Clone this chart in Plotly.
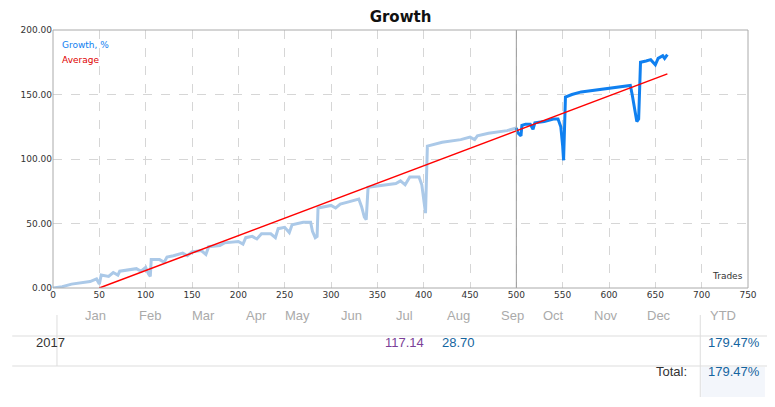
import plotly.graph_objects as go

# Growth curve, history part (light) and recent part (dark)
hist_x = [0, 10, 20, 30, 40, 47, 50, 52, 60, 65, 70, 72, 80, 90, 95, 100, 103, 105, 106, 115, 120, 123, 130,
          140, 145, 150, 160, 165, 168, 180, 185, 200, 205, 208, 215, 220, 225, 235, 240, 243, 250, 255, 258,
          270, 278, 280, 283, 285, 286, 300, 305, 310, 320, 325, 330, 333, 336, 338, 340, 350, 360, 370, 375,
          380, 385, 395, 398, 400, 402, 404, 420, 440, 450, 455, 458, 470, 480, 490, 500]
hist_y = [0, 1, 3, 4, 5, 7, 3, 10, 9, 12, 10, 13, 14, 15, 13, 16, 11, 9, 22, 22, 20, 24, 25,
          27, 25, 28, 29, 26, 32, 33, 35, 36, 34, 39, 40, 38, 42, 42, 39, 46, 47, 43, 49,
          51, 51, 44, 39, 40, 62, 64, 62, 65, 67, 68, 69, 63, 55, 53, 78, 79, 80, 81, 83,
          80, 86, 86, 80, 70, 58, 110, 113, 115, 117, 115, 118, 120, 121, 122, 124]
recent_x = [500, 502, 505, 506, 510, 515, 518, 520, 530, 540, 545, 548, 550, 551, 553, 560, 570, 580, 590,
            600, 610, 620, 623, 625, 628, 630, 632, 634, 640, 645, 650, 653, 658, 660, 663]
recent_y = [124, 120, 118, 126, 127, 127, 123, 128, 129, 131, 131, 125, 110, 99, 148, 150, 152, 153, 154,
            155, 156, 157, 157, 150, 138, 129, 131, 175, 176, 177, 173, 178, 180, 178, 181]
avg_x = [50, 663]
avg_y = [0, 166]

months = ["Jan", "Feb", "Mar", "Apr", "May", "Jun", "Jul", "Aug", "Sep", "Oct", "Nov", "Dec"]
year = "2017"
month_vals = ["", "", "", "", "", "", "117.14", "28.70", "", "", "", ""]
month_colors = ["#1565a0"] * 6 + ["#7b3f98", "#1565a0"] + ["#1565a0"] * 4
ytd = "179.47%"
total = "179.47%"

# the page body adds an 8px margin, so the figure is drawn 8px smaller and offset
OFF = 8
W, H = 775 - OFF, 407 - OFF
L, R, T, B = 49 - OFF, 748 - OFF, 30 - OFF, 288 - OFF


def px(x):
    return (x - OFF - L) / (R - L)


def py(y):
    return (B - (y - OFF)) / (B - T)


fig = go.Figure()
fig.add_trace(go.Scatter(x=hist_x, y=hist_y, mode="lines", line=dict(color="#abc9e8", width=3), hoverinfo="skip"))
fig.add_trace(go.Scatter(x=recent_x, y=recent_y, mode="lines", line=dict(color="#1080f0", width=3), hoverinfo="skip"))
fig.add_trace(go.Scatter(x=avg_x, y=avg_y, mode="lines", line=dict(color="#ff0000", width=1.5), hoverinfo="skip"))

shapes = [
    dict(type="line", xref="x", yref="paper", x0=500, x1=500, y0=0, y1=1, line=dict(color="#999", width=1)),
    dict(type="rect", xref="paper", yref="paper", x0=0, x1=1, y0=0, y1=1, line=dict(color="#aaa", width=1)),
    # table lines
    dict(type="line", xref="paper", yref="paper", x0=px(8), x1=px(775), y0=py(336), y1=py(336), line=dict(color="#ddd", width=1)),
    dict(type="line", xref="paper", yref="paper", x0=px(8), x1=px(775), y0=py(366), y1=py(366), line=dict(color="#ddd", width=1)),
    dict(type="line", xref="paper", yref="paper", x0=px(53), x1=px(53), y0=py(315), y1=py(366), line=dict(color="#ddd", width=1)),
    dict(type="line", xref="paper", yref="paper", x0=px(700), x1=px(700), y0=py(315), y1=py(397), line=dict(color="#ddd", width=1)),
    dict(type="rect", xref="paper", yref="paper", x0=px(701), x1=px(765), y0=py(397), y1=py(367), fillcolor="#f3f6fb", line=dict(width=0), layer="below"),
]

tfont = dict(family="Liberation Sans Narrow, Liberation Sans", size=13)
annotations = [
    dict(text="Growth, %", x=0.01, y=0.97, xref="paper", yref="paper", xanchor="left", showarrow=False,
         font=dict(family="DejaVu Sans", size=9, color="#1080f0")),
    dict(text="Average", x=0.01, y=0.91, xref="paper", yref="paper", xanchor="left", showarrow=False,
         font=dict(family="DejaVu Sans", size=9, color="#e00000")),
    dict(text="Trades", x=0.995, y=0.02, xref="paper", yref="paper", xanchor="right", yanchor="bottom", showarrow=False,
         font=dict(family="DejaVu Sans", size=9, color="#333")),
]
for i, m in enumerate(months):
    cx = 79 + i * 54
    annotations.append(dict(text=m, x=px(cx), y=py(325), xref="paper", yref="paper", showarrow=False,
                            font=dict(tfont, color="#aaa")))
    if month_vals[i]:
        annotations.append(dict(text=month_vals[i], x=px(cx), y=py(352), xref="paper", yref="paper", showarrow=False,
                                font=dict(tfont, color=month_colors[i])))
annotations += [
    dict(text="YTD", x=px(738), y=py(325), xref="paper", yref="paper", showarrow=False, font=dict(tfont, color="#aaa")),
    dict(text=year, x=px(30), y=py(352), xref="paper", yref="paper", showarrow=False, font=dict(tfont, color="#333")),
    dict(text=ytd, x=px(762), y=py(352), xref="paper", yref="paper", xanchor="right", showarrow=False, font=dict(tfont, color="#1565a0")),
    dict(text="Total:", x=px(689), y=py(381), xref="paper", yref="paper", xanchor="right", showarrow=False, font=dict(tfont, color="#333")),
    dict(text=total, x=px(762), y=py(381), xref="paper", yref="paper", xanchor="right", showarrow=False, font=dict(tfont, color="#1565a0")),
]

fig.update_layout(
    width=W, height=H,
    margin=dict(l=L, r=W - R, t=T, b=H - B),
    paper_bgcolor="white", plot_bgcolor="white",
    showlegend=False,
    title=dict(text="<b>Growth</b>", x=0.5, xref="paper", y=0.99, yanchor="top",
               font=dict(family="DejaVu Sans", size=15, color="#111")),
    xaxis=dict(range=[0, 750], dtick=50, showgrid=True, gridcolor="#d6d6d6", griddash="dash", zeroline=False,
               tickfont=dict(family="DejaVu Sans", size=9, color="#333"), ticks=""),
    yaxis=dict(range=[0, 200], dtick=50, tickformat=".2f", showgrid=True, gridcolor="#d6d6d6", griddash="dash",
               zeroline=False, tickfont=dict(family="DejaVu Sans", size=9, color="#333"), ticks=""),
    shapes=shapes,
    annotations=annotations,
)

fig.write_html("out.html")
